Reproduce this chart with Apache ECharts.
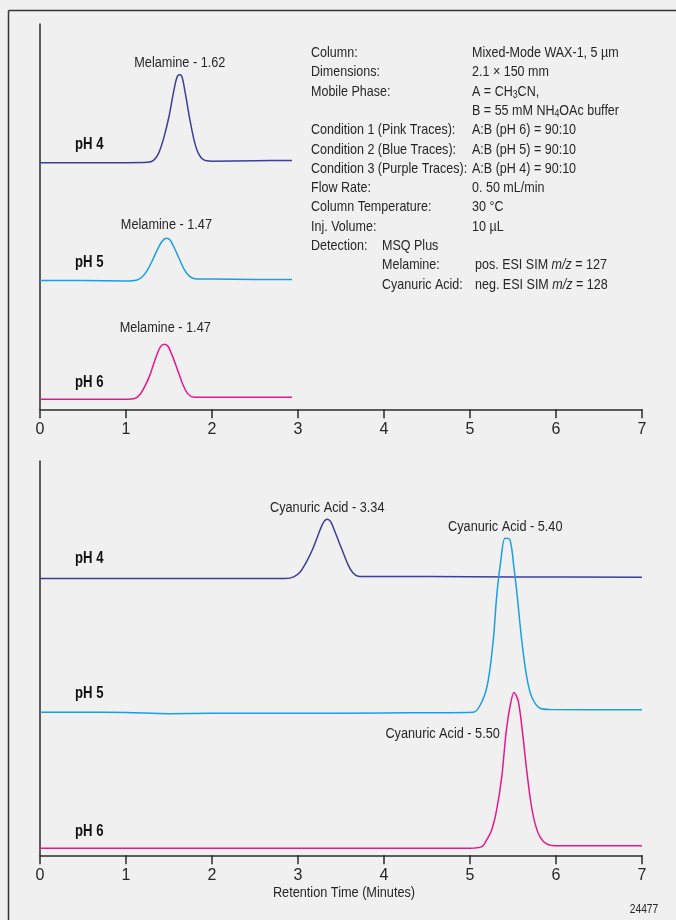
<!DOCTYPE html>
<html>
<head>
<meta charset="utf-8">
<script src="https://cdn.jsdelivr.net/npm/echarts@6/dist/echarts.min.js"></script>
<style>
  html, body { margin: 0; padding: 0; background: #f0f0f0; }
  #chart { width: 676px; height: 920px; }
</style>
</head>
<body>
<div id="chart"></div>
<script>
const FONT = '"Liberation Sans", Arial, sans-serif';
const NARROW = 0.82; // Arial Narrow look
const PURPLE = '#3b3f98';
const BLUE = '#1a9ee0';
const PINK = '#e6198b';
const INK = '#2b2b2b';
const TEXT = '#262626';

// retention time axis (minutes)
const timeTicks = [0, 1, 2, 3, 4, 5, 6, 7];

// top panel: melamine traces, [minutes, signal]
const melaminePH4 = [
  [0, 64.0], [0.5, 64.0], [1.0, 64.0], [1.25, 64.1], [1.32, 64.6], [1.38, 66.5],
  [1.44, 70.5], [1.50, 76.0], [1.55, 82.0], [1.59, 86.0], [1.62, 86.8], [1.65, 86.4],
  [1.69, 82.0], [1.74, 75.5], [1.79, 70.0], [1.84, 66.5], [1.90, 64.8], [2.0, 64.4],
  [2.5, 64.5], [2.93, 64.6]
];
const melaminePH5 = [
  [0, 33.4], [0.5, 33.4], [1.0, 33.3], [1.12, 33.5], [1.18, 34.2], [1.24, 35.8],
  [1.30, 38.3], [1.36, 41.2], [1.42, 43.6], [1.47, 44.4], [1.51, 44.0], [1.56, 42.0],
  [1.62, 39.0], [1.68, 36.2], [1.74, 34.5], [1.80, 33.9], [2.0, 33.8], [2.5, 33.7],
  [2.93, 33.7]
];
const melaminePH6 = [
  [0, 2.6], [0.5, 2.6], [1.0, 2.6], [1.10, 2.8], [1.16, 3.8], [1.22, 6.0],
  [1.28, 9.0], [1.34, 13.0], [1.40, 16.2], [1.45, 16.9], [1.49, 16.3], [1.54, 13.8],
  [1.60, 10.2], [1.66, 6.5], [1.72, 4.0], [1.78, 3.2], [2.0, 3.1], [2.5, 3.1],
  [2.93, 3.1]
];

// bottom panel: cyanuric acid traces, [minutes, signal]
const cyanuricPH4 = [
  [0, 70.2], [1, 70.2], [2, 70.2], [2.85, 70.2], [2.95, 70.6], [3.03, 72.0],
  [3.10, 74.5], [3.17, 77.6], [3.23, 81.0], [3.29, 84.2], [3.34, 85.2], [3.38, 84.6],
  [3.44, 81.5], [3.51, 77.6], [3.58, 73.8], [3.64, 71.6], [3.70, 70.8], [3.80, 70.7],
  [4.5, 70.7], [5.5, 70.6], [7.0, 70.5]
];
const cyanuricPH5 = [
  [0, 36.3], [0.5, 36.3], [1.0, 36.2], [1.5, 35.9], [2.0, 36.0], [3.0, 36.0],
  [4.0, 36.1], [5.04, 36.3], [5.155, 39.8], [5.213, 44.5], [5.271, 54.6], [5.31, 65.6],
  [5.357, 74.5], [5.407, 80.4], [5.465, 80.0], [5.512, 72.8], [5.55, 65.6], [5.601, 54.6],
  [5.659, 45.3], [5.717, 40.2], [5.814, 37.3], [5.93, 37.0], [7.0, 36.9]
];
const cyanuricPH6 = [
  [0, 1.8], [1, 1.8], [2, 1.8], [3, 1.8], [4, 1.8], [5.0, 1.8], [5.136, 2.2],
  [5.194, 3.9], [5.252, 6.4], [5.31, 11.5], [5.369, 19.9], [5.419, 30.9], [5.465, 37.7],
  [5.512, 41.3], [5.562, 39.0], [5.612, 30.9], [5.659, 21.6], [5.709, 13.2], [5.756, 8.1],
  [5.814, 4.7], [5.892, 2.9], [6.008, 2.4], [7.0, 2.4]
];

// peak annotations: [minutes, signal, text]
const melaminePeaks = [
  [1.62, 86.8, 'Melamine - 1.62'],
  [1.47, 44.4, 'Melamine - 1.47'],
  [1.45, 16.9, 'Melamine - 1.47']
];
const cyanuricPeaks = [
  [3.34, 85.2, 'Cyanuric Acid - 3.34'],
  [5.41, 80.4, 'Cyanuric Acid - 5.40'],
  [5.51, 41.3, 'Cyanuric Acid - 5.50']
];
const phNames = ['pH 4', 'pH 5', 'pH 6'];

// method conditions
const infoLabels = [
  'Column:', 'Dimensions:', 'Mobile Phase:', '', 'Condition 1 (Pink Traces):',
  'Condition 2 (Blue Traces):', 'Condition 3 (Purple Traces):', 'Flow Rate:',
  'Column Temperature:', 'Inj. Volume:', 'Detection:'
];
const infoValues = [
  'Mixed-Mode WAX-1, 5 µm', '2.1 × 150 mm', 'A = CH{sub|3}CN,', 'B = 55 mM NH{sub|4}OAc buffer',
  'A:B (pH 6) = 90:10', 'A:B (pH 5) = 90:10', 'A:B (pH 4) = 90:10', '0. 50 mL/min',
  '30 °C', '10 µL', ''
];
const detectionLabels = ['MSQ Plus', 'Melamine:', 'Cyanuric Acid:'];
const detectionValues = ['', 'pos. ESI SIM {it|m/z} = 127', 'neg. ESI SIM {it|m/z} = 128'];

const chart = echarts.init(document.getElementById('chart'));

function xAxisFor(grid) {
  return {
    gridIndex: grid, type: 'value', min: timeTicks[0], max: timeTicks[timeTicks.length - 1], interval: 1,
    axisLine: { lineStyle: { color: INK, width: 1.5 } },
    axisTick: { show: true, length: 9, lineStyle: { color: INK, width: 1.5 } },
    axisLabel: { margin: 12, fontSize: 16, color: TEXT, fontFamily: FONT },
    splitLine: { show: false }
  };
}
function yAxisFor(grid) {
  return {
    gridIndex: grid, type: 'value', min: 0, max: 100,
    axisLine: { show: true, lineStyle: { color: INK, width: 1.5 } },
    axisTick: { show: false }, axisLabel: { show: false }, splitLine: { show: false }
  };
}
function trace(name, data, color, grid) {
  return {
    name, type: 'line', data, xAxisIndex: grid, yAxisIndex: grid,
    showSymbol: false, smooth: 0.3,
    lineStyle: { color, width: 1.5 }, itemStyle: { color }
  };
}

chart.setOption({
  backgroundColor: '#f0f0f0',
  animation: false,
  grid: [
    { left: 40, width: 602, top: 24, height: 385.3 },
    { left: 40, width: 602, top: 461, height: 394.3 }
  ],
  xAxis: [xAxisFor(0), xAxisFor(1)],
  yAxis: [yAxisFor(0), yAxisFor(1)],
  series: [
    trace('Melamine pH 4', melaminePH4, PURPLE, 0),
    trace('Melamine pH 5', melaminePH5, BLUE, 0),
    trace('Melamine pH 6', melaminePH6, PINK, 0),
    trace('Cyanuric pH 4', cyanuricPH4, PURPLE, 1),
    trace('Cyanuric pH 5', cyanuricPH5, BLUE, 1),
    trace('Cyanuric pH 6', cyanuricPH6, PINK, 1)
  ]
});

// narrow text, drawn as graphic elements
const rich = {
  sub: { fontSize: 10.5, fontFamily: FONT, fill: TEXT, padding: [7, 0, 0, 0] },
  it: { fontStyle: 'italic', fontSize: 15, fontFamily: FONT, fill: TEXT }
};
function txt(x, y, text, extra, sx) {
  return {
    type: 'text', x, y, scaleX: sx || NARROW, silent: true,
    style: Object.assign({ text, x: 0, y: 0, fontSize: 15, fontFamily: FONT, fill: TEXT,
      align: 'left', verticalAlign: 'middle', rich }, extra || {})
  };
}
function at(grid, t, v) {
  return chart.convertToPixel({ gridIndex: grid }, [t, v]);
}

const graphics = [
  { type: 'line', shape: { x1: 8.5, y1: 10.5, x2: 676, y2: 10.5 }, style: { stroke: '#333', lineWidth: 1.5 } },
  { type: 'line', shape: { x1: 8.5, y1: 10.5, x2: 8.5, y2: 920 }, style: { stroke: '#333', lineWidth: 1.5 } },
  txt(644, 910, '24477', { fontSize: 12.5, align: 'center' })
];

// axis title centred under the bottom time axis
const mid = at(1, 3.5, 0);
graphics.push(txt(mid[0] + 3, mid[1] + 37, 'Retention Time (Minutes)', { fontSize: 15.5, align: 'center' }));

// peak labels, placed from the peak apex
const peakShift = [[0.5, -12], [0, -14], [0.5, -16], [0, -12], [0, -12], [-14, 41]];
melaminePeaks.concat(cyanuricPeaks).forEach((p, i) => {
  const grid = i < 3 ? 0 : 1;
  const px = at(grid, p[0], p[1]);
  const last = i === 5;
  graphics.push(txt(px[0] + peakShift[i][0], px[1] + peakShift[i][1], p[2],
    { fontSize: 15.5, align: last ? 'right' : 'center' }));
});

// trace names, above each baseline at the left
const phStart = 0.407;
const baselines = [melaminePH4, melaminePH5, melaminePH6, cyanuricPH4, cyanuricPH5, cyanuricPH6];
const phShift = [-18, -18, -16.5, -20, -19, -16.5];
baselines.forEach((d, i) => {
  const px = at(i < 3 ? 0 : 1, phStart, d[0][1]);
  graphics.push(txt(px[0], px[1] + phShift[i], phNames[i % 3],
    { fontSize: 16, fontWeight: 'bold', fill: '#111' }));
});

// method conditions block
const rowStep = 19.28;
const infoScale = 0.835;
infoLabels.forEach((t, i) => {
  const y = 53 + i * rowStep;
  graphics.push(txt(311, y, t, null, infoScale));
  graphics.push(txt(472, y, infoValues[i], null, infoScale));
});
detectionLabels.forEach((t, i) => {
  const y = 53 + (10 + i) * rowStep;
  graphics.push(txt(382, y, t, null, infoScale));
  graphics.push(txt(475, y, detectionValues[i], null, infoScale));
});

chart.setOption({ graphic: graphics });
</script>
</body>
</html>
